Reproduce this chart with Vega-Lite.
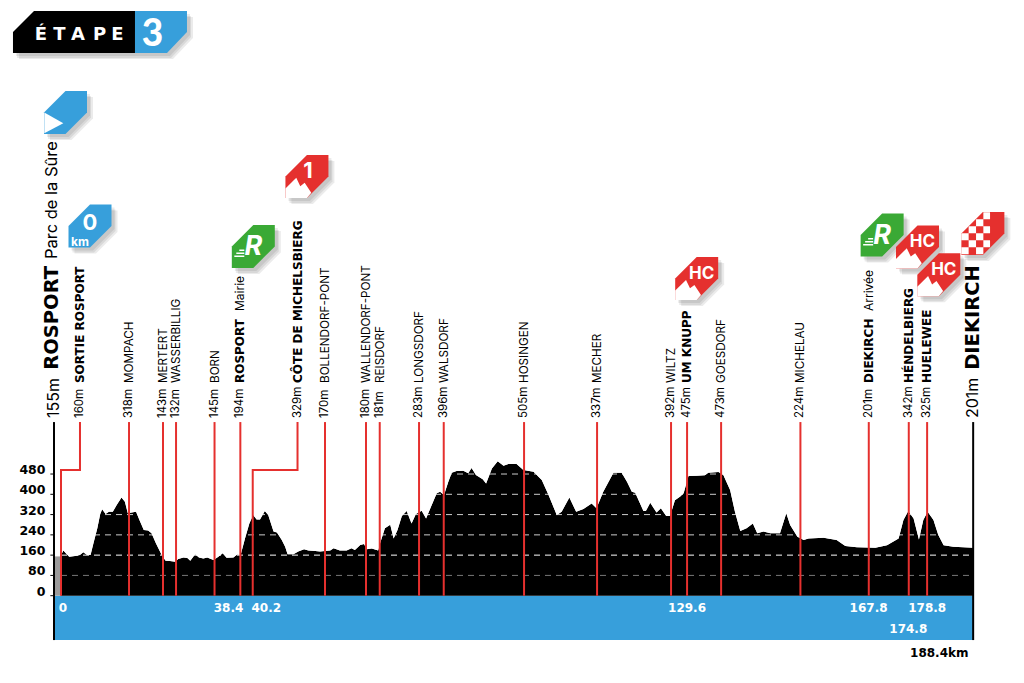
{
"$schema":"https://vega.github.io/schema/vega-lite/v6.json",
"width":1024,"height":683,"padding":0,"autosize":"none","background":"white",
"config":{"view":{"stroke":null}},
"datasets":{
"profile":[{"km":0,"alt":161},{"km":0.5,"alt":178},{"km":1.0,"alt":167},{"km":1.7,"alt":154},{"km":2.9,"alt":157},{"km":3.9,"alt":161},{"km":4.6,"alt":171},{"km":5.4,"alt":161},{"km":6.1,"alt":161},{"km":6.7,"alt":207},{"km":7.5,"alt":266},{"km":8.1,"alt":322},{"km":8.5,"alt":341},{"km":9.2,"alt":322},{"km":9.9,"alt":331},{"km":10.7,"alt":331},{"km":11.5,"alt":358},{"km":12.5,"alt":387},{"km":13.2,"alt":371},{"km":13.8,"alt":325},{"km":14.6,"alt":328},{"km":15.5,"alt":331},{"km":16.2,"alt":299},{"km":17.1,"alt":259},{"km":18.0,"alt":257},{"km":18.7,"alt":246},{"km":19.6,"alt":207},{"km":20.8,"alt":161},{"km":21.6,"alt":138},{"km":22.5,"alt":137},{"km":23.6,"alt":134},{"km":24.2,"alt":145},{"km":25.3,"alt":151},{"km":26.1,"alt":149},{"km":26.7,"alt":138},{"km":27.7,"alt":164},{"km":28.5,"alt":151},{"km":29.4,"alt":147},{"km":30.2,"alt":151},{"km":31.5,"alt":141},{"km":32.5,"alt":154},{"km":33.4,"alt":167},{"km":34.2,"alt":150},{"km":35.6,"alt":151},{"km":36.4,"alt":163},{"km":37.1,"alt":161},{"km":38.0,"alt":226},{"km":38.9,"alt":285},{"km":39.7,"alt":318},{"km":40.4,"alt":301},{"km":41.1,"alt":301},{"km":42.1,"alt":334},{"km":42.8,"alt":318},{"km":43.9,"alt":253},{"km":44.6,"alt":249},{"km":45.6,"alt":220},{"km":46.3,"alt":193},{"km":46.8,"alt":164},{"km":48.0,"alt":164},{"km":49.0,"alt":174},{"km":50.2,"alt":183},{"km":51.1,"alt":178},{"km":52.5,"alt":176},{"km":53.5,"alt":174},{"km":54.5,"alt":176},{"km":55.6,"alt":178},{"km":56.3,"alt":187},{"km":57.6,"alt":178},{"km":59.0,"alt":178},{"km":60.0,"alt":187},{"km":60.7,"alt":180},{"km":61.8,"alt":200},{"km":62.6,"alt":204},{"km":63.1,"alt":183},{"km":64.2,"alt":186},{"km":65.5,"alt":178},{"km":66.0,"alt":213},{"km":66.9,"alt":266},{"km":68.0,"alt":280},{"km":68.7,"alt":226},{"km":69.5,"alt":259},{"km":70.4,"alt":314},{"km":71.4,"alt":334},{"km":72.4,"alt":285},{"km":73.3,"alt":322},{"km":74.5,"alt":335},{"km":75.4,"alt":305},{"km":76.2,"alt":341},{"km":77.6,"alt":404},{"km":78.3,"alt":410},{"km":79.1,"alt":397},{"km":80.0,"alt":450},{"km":80.7,"alt":485},{"km":81.7,"alt":492},{"km":83.1,"alt":493},{"km":84.1,"alt":483},{"km":84.8,"alt":504},{"km":85.7,"alt":476},{"km":87.1,"alt":459},{"km":87.8,"alt":443},{"km":89.0,"alt":502},{"km":90.2,"alt":530},{"km":91.4,"alt":513},{"km":92.4,"alt":520},{"km":94.1,"alt":520},{"km":95.5,"alt":496},{"km":97.6,"alt":489},{"km":99.3,"alt":456},{"km":100.7,"alt":397},{"km":102.4,"alt":318},{"km":103.4,"alt":331},{"km":105.0,"alt":387},{"km":106.4,"alt":331},{"km":107.9,"alt":342},{"km":109.6,"alt":364},{"km":110.6,"alt":345},{"km":112.0,"alt":410},{"km":114.1,"alt":485},{"km":115.8,"alt":485},{"km":116.9,"alt":450},{"km":117.9,"alt":410},{"km":118.6,"alt":406},{"km":120.3,"alt":334},{"km":120.8,"alt":334},{"km":121.7,"alt":367},{"km":123.0,"alt":328},{"km":123.9,"alt":345},{"km":125.0,"alt":314},{"km":125.8,"alt":314},{"km":126.8,"alt":377},{"km":127.9,"alt":391},{"km":128.6,"alt":404},{"km":129.6,"alt":472},{"km":131.3,"alt":473},{"km":133.0,"alt":475},{"km":133.7,"alt":485},{"km":135.8,"alt":488},{"km":136.8,"alt":476},{"km":138.2,"alt":417},{"km":139.2,"alt":331},{"km":140.3,"alt":255},{"km":141.6,"alt":266},{"km":142.9,"alt":285},{"km":143.8,"alt":246},{"km":145.1,"alt":253},{"km":146.5,"alt":246},{"km":148.5,"alt":246},{"km":149.8,"alt":325},{"km":150.6,"alt":279},{"km":152.1,"alt":233},{"km":153.4,"alt":220},{"km":154.4,"alt":226},{"km":157.5,"alt":229},{"km":160.2,"alt":220},{"km":162.0,"alt":196},{"km":164.4,"alt":191},{"km":168.2,"alt":189},{"km":170.6,"alt":199},{"km":173.0,"alt":226},{"km":174.0,"alt":299},{"km":175.0,"alt":334},{"km":176.1,"alt":305},{"km":177.2,"alt":222},{"km":178.1,"alt":299},{"km":179.0,"alt":331},{"km":180.2,"alt":299},{"km":181.2,"alt":239},{"km":182.3,"alt":199},{"km":184.3,"alt":193},{"km":188.4,"alt":189}],
"grid":[{"alt":80,"k":"a"},{"alt":160,"k":"b"},{"alt":240,"k":"c"},{"alt":320,"k":"c"},{"alt":400,"k":"c"},{"alt":480,"k":"c"}],
"ticks":[{"alt":0,"label":"0"},{"alt":80,"label":"80"},{"alt":160,"label":"160"},{"alt":240,"label":"240"},{"alt":320,"label":"320"},{"alt":400,"label":"400"},{"alt":480,"label":"480"}],
"reds":[{"km":14.05},{"km":21.07},{"km":23.76},{"km":31.71},{"km":37.04},{"km":54.53},{"km":63.0},{"km":65.83},{"km":73.95},{"km":79.05},{"km":95.64},{"km":110.72},{"km":126.0},{"km":129.31},{"km":136.34},{"km":152.72},{"km":166.84},{"km":175.1},{"km":178.89}],
"jogs":[{"id":"a","o":1,"km":0,"alt":0},{"id":"a","o":2,"km":0,"alt":496},{"id":"a","o":3,"km":3.92,"alt":496},{"id":"a","o":4,"km":3.92,"alt":685},{"id":"b","o":1,"km":39.6,"alt":0},{"id":"b","o":2,"km":39.6,"alt":496},{"id":"b","o":3,"km":48.85,"alt":496},{"id":"b","o":4,"km":48.85,"alt":685}],
"numbers":[{"km":3.92,"label":"160m"},{"km":14.05,"label":"318m"},{"km":21.07,"label":"143m"},{"km":23.76,"label":"132m"},{"km":31.71,"label":"145m"},{"km":37.04,"label":"194m"},{"km":48.85,"label":"329m"},{"km":54.53,"label":"170m"},{"km":63.0,"label":"180m"},{"km":65.83,"label":"181m"},{"km":73.95,"label":"283m"},{"km":79.05,"label":"396m"},{"km":95.64,"label":"505m"},{"km":110.72,"label":"337m"},{"km":126.0,"label":"392m"},{"km":129.31,"label":"475m"},{"km":136.34,"label":"473m"},{"km":152.72,"label":"224m"},{"km":166.84,"label":"201m"},{"km":175.1,"label":"342m"},{"km":178.89,"label":"325m"}],
"namesBold":[{"km":3.92,"label":"SORTIE ROSPORT"},{"km":37.04,"label":"ROSPORT"},{"km":48.85,"label":"CÔTE DE MICHELSBIERG"},{"km":129.31,"label":"UM KNUPP"},{"km":166.84,"label":"DIEKIRCH"},{"km":175.1,"label":"HÉNDELBIERG"},{"km":178.89,"label":"HUELEWEE"}],
"namesRegular":[{"km":14.05,"label":"MOMPACH"},{"km":21.07,"label":"MERTERT"},{"km":23.76,"label":"WASSERBILLIG"},{"km":31.71,"label":"BORN"},{"km":54.53,"label":"BOLLENDORF-PONT"},{"km":63.0,"label":"WALLENDORF-PONT"},{"km":65.83,"label":"REISDORF"},{"km":73.95,"label":"LONGSDORF"},{"km":79.05,"label":"WALSDORF"},{"km":95.64,"label":"HOSINGEN"},{"km":110.72,"label":"MECHER"},{"km":126.0,"label":"WILTZ"},{"km":136.34,"label":"GOESDORF"},{"km":152.72,"label":"MICHELAU"}],
"notes":[{"km":37.04,"label":"Mairie"},{"km":166.84,"label":"Arrivée"}],
"bigNumbers":[{"km":-1.45,"label":"155m"},{"km":188.3,"label":"201m"}],
"bigNames":[{"km":-1.9,"label":"ROSPORT"},{"km":188.3,"label":"DIEKIRCH"}],
"kmLabels":[{"km":0.4,"label":"0","alt":-49},{"km":34.6,"label":"38.4","alt":-49},{"km":42.4,"label":"40.2","alt":-49},{"km":129.3,"label":"129.6","alt":-49},{"km":166.8,"label":"167.8","alt":-49},{"km":178.9,"label":"178.8","alt":-49},{"km":175.0,"label":"174.8","alt":-130}],
"badges":[{"km":0.93,"alt":1906,"kind":"blue","id":"start"},{"km":5.99,"alt":1458,"kind":"blue","id":"zero"},{"km":39.72,"alt":1378,"kind":"green","id":"sprint1"},{"km":50.8,"alt":1654,"kind":"red","id":"one"},{"km":131.3,"alt":1251,"kind":"red","id":"hc1"},{"km":169.6,"alt":1423,"kind":"green","id":"sprint2"},{"km":176.9,"alt":1376,"kind":"red","id":"hc2"},{"km":181.3,"alt":1266,"kind":"red","id":"hc3"},{"km":190.4,"alt":1429,"kind":"red","id":"finish"}],
"mountains":[{"km":50.8,"alt":1654},{"km":131.3,"alt":1251},{"km":176.9,"alt":1376},{"km":181.3,"alt":1266}],
"hc":[{"km":131.3,"alt":1251,"label":"HC"},{"km":176.9,"alt":1376,"label":"HC"},{"km":181.3,"alt":1266,"label":"HC"}],
"sprints":[{"km":39.72,"alt":1378,"label":"R"},{"km":169.6,"alt":1423,"label":"R"}],
"stage":[{"km":8.05,"alt":2224}]
},
"encoding":{
"x":{"field":"km","type":"quantitative","axis":null,"scale":{"domain":[-12.6,198.9],"nice":false,"zero":false}},
"y":{"field":"alt","type":"quantitative","axis":null,"scale":{"domain":[-344.4,2350],"nice":false,"zero":false}}
},
"layer":[
{"data":{"values":[{"km":-1.45,"km2":188.4,"alt":-175,"alt2":0}]},"mark":{"type":"rect","fill":"#379fdb"},"encoding":{"x2":{"field":"km2"},"y2":{"field":"alt2"}}},
{"data":{"values":[{"km":-1.45,"km2":0,"alt":0,"alt2":155}]},"mark":{"type":"rect","fill":"#9b9b9b"},"encoding":{"x2":{"field":"km2"},"y2":{"field":"alt2"}}},
{"data":{"name":"profile"},"mark":{"type":"area","fill":"#000000","interpolate":"linear"},"encoding":{"y2":{"datum":0}}},
{"data":{"name":"grid"},"transform":[{"calculate":"0","as":"from"},{"calculate":"188.4","as":"to"}],"mark":{"type":"rule","strokeWidth":1,"strokeDash":[6,5]},"encoding":{"x":{"field":"from","type":"quantitative"},"x2":{"field":"to"},"stroke":{"field":"k","type":"nominal","legend":null,"scale":{"domain":["a","b","c"],"range":["#777777","#ffffff","#cccccc"]}}}},
{"data":{"name":"profile"},"mark":{"type":"area","fill":"#ffffff","interpolate":"linear"},"encoding":{"y2":{"datum":560}}},
{"data":{"name":"ticks"},"transform":[{"calculate":"-2.2","as":"from"},{"calculate":"-1.45","as":"to"}],"mark":{"type":"rule","strokeWidth":1,"stroke":"#000000"},"encoding":{"x":{"field":"from","type":"quantitative"},"x2":{"field":"to"}}},
{"data":{"name":"reds"},"transform":[{"calculate":"0","as":"a0"},{"calculate":"685","as":"a1"}],"mark":{"type":"rule","stroke":"#e5302e","strokeWidth":2},"encoding":{"y":{"field":"a0","type":"quantitative"},"y2":{"field":"a1"}}},
{"data":{"name":"jogs"},"mark":{"type":"line","stroke":"#e5302e","strokeWidth":2,"interpolate":"linear"},"encoding":{"detail":{"field":"id"},"order":{"field":"o","type":"quantitative"}}},
{"data":{"values":[{"km":-1.45,"alt":-175,"alt2":685},{"km":188.4,"alt":-175,"alt2":685}]},"mark":{"type":"rule","stroke":"#000000","strokeWidth":2},"encoding":{"y2":{"field":"alt2"}}},
{"data":{"name":"ticks"},"transform":[{"calculate":"-3.2","as":"lx"}],"mark":{"type":"text","font":"DejaVu Sans","fontWeight":"bold","fontSize":12.5,"align":"right","baseline":"middle","dy":-4,"fill":"#000000"},"encoding":{"x":{"field":"lx","type":"quantitative"},"text":{"field":"label"}}},
{"data":{"name":"kmLabels"},"mark":{"type":"text","font":"DejaVu Sans","fontWeight":"bold","fontSize":12,"align":"center","baseline":"middle","fill":"#ffffff"},"encoding":{"text":{"field":"label"}}},
{"data":{"values":[{"km":181.4,"alt":-225,"label":"188.4km"}]},"mark":{"type":"text","font":"DejaVu Sans","fontWeight":"bold","fontSize":12,"align":"center","baseline":"middle","fill":"#000000"},"encoding":{"text":{"field":"label"}}},
{"data":{"name":"numbers"},"transform":[{"calculate":"701","as":"a"}],"mark":{"type":"text","font":"Inter","fontSize":11.5,"angle":270,"align":"left","baseline":"middle","fill":"#000000"},"encoding":{"y":{"field":"a","type":"quantitative"},"text":{"field":"label"}}},
{"data":{"name":"namesRegular"},"transform":[{"calculate":"839","as":"a"}],"mark":{"type":"text","font":"Inter","fontSize":11.7,"angle":270,"align":"left","baseline":"middle","fill":"#000000"},"encoding":{"y":{"field":"a","type":"quantitative"},"text":{"field":"label"}}},
{"data":{"name":"namesBold"},"transform":[{"calculate":"839","as":"a"}],"mark":{"type":"text","font":"DejaVu Sans","fontWeight":"bold","fontSize":12,"angle":270,"align":"left","baseline":"middle","fill":"#000000"},"encoding":{"y":{"field":"a","type":"quantitative"},"text":{"field":"label"}}},
{"data":{"name":"notes"},"transform":[{"calculate":"1123","as":"a"}],"mark":{"type":"text","font":"Inter","fontSize":12,"angle":270,"align":"left","baseline":"middle","fill":"#000000"},"encoding":{"y":{"field":"a","type":"quantitative"},"text":{"field":"label"}}},
{"data":{"name":"bigNumbers"},"transform":[{"calculate":"701","as":"a"}],"mark":{"type":"text","font":"Inter","fontSize":16,"angle":270,"align":"left","baseline":"middle","fill":"#000000"},"encoding":{"y":{"field":"a","type":"quantitative"},"text":{"field":"label"}}},
{"data":{"name":"bigNames"},"transform":[{"calculate":"891","as":"a"}],"mark":{"type":"text","font":"DejaVu Sans","fontWeight":"bold","fontSize":19.5,"angle":270,"align":"left","baseline":"middle","fill":"#000000"},"encoding":{"y":{"field":"a","type":"quantitative"},"text":{"field":"label"}}},
{"data":{"values":[{"km":-1.9,"alt":1328,"label":"Parc de la Sûre"}]},"mark":{"type":"text","font":"Inter","fontSize":16.5,"angle":270,"align":"left","baseline":"middle","fill":"#000000"},"encoding":{"text":{"field":"label"}}},
{"data":{"name":"stage"},"mark":{"type":"point","shape":"M-63,-18L90,-18L90,3L70,24L-84,24L-84,3Z","size":4,"filled":true,"fill":"#000000","opacity":0.08,"strokeWidth":0}},
{"data":{"name":"stage"},"mark":{"type":"point","shape":"M-62,-16L91,-16L91,5L71,26L-83,26L-83,5Z","size":4,"filled":true,"fill":"#000000","opacity":0.08,"strokeWidth":0}},
{"data":{"name":"stage"},"mark":{"type":"point","shape":"M-60,-15L93,-15L93,6L73,27L-81,27L-81,6Z","size":4,"filled":true,"fill":"#000000","opacity":0.08,"strokeWidth":0}},
{"data":{"name":"stage"},"mark":{"type":"point","shape":"M-66,-21L35,-21L35,21L-87,21L-87,0Z","size":4,"filled":true,"fill":"#000000","opacity":1,"strokeWidth":0}},
{"data":{"name":"stage"},"mark":{"type":"point","shape":"M35,-21L87,-21L87,0L67,21L35,21Z","size":4,"filled":true,"fill":"#379fdb","opacity":1,"strokeWidth":0}},
{"data":{"values":[{"km":-4.13,"alt":2192,"label":"É"},{"km":-0.31,"alt":2192,"label":"T"},{"km":3.51,"alt":2192,"label":"A"},{"km":7.95,"alt":2192,"label":"P"},{"km":11.67,"alt":2192,"label":"E"}]},"mark":{"type":"text","font":"DejaVu Sans","fontWeight":"bold","fontSize":18,"align":"center","baseline":"alphabetic","fill":"#ffffff"},"encoding":{"text":{"field":"label"}}},
{"data":{"values":[{"km":18.9,"alt":2169,"label":"3"}]},"mark":{"type":"text","font":"Lato","fontWeight":900,"fontSize":37,"align":"center","baseline":"alphabetic","fill":"#ffffff"},"encoding":{"text":{"field":"label"}}},
{"data":{"name":"badges"},"mark":{"type":"point","shape":"M3,-18.5L24.5,-18.5L24.5,3L3,24.5L-18.5,24.5L-18.5,3Z","size":4,"filled":true,"fill":"#000000","opacity":0.08,"strokeWidth":0}},
{"data":{"name":"badges"},"mark":{"type":"point","shape":"M4,-16.5L25.5,-16.5L25.5,5L4,26.5L-17.5,26.5L-17.5,5Z","size":4,"filled":true,"fill":"#000000","opacity":0.08,"strokeWidth":0}},
{"data":{"name":"badges"},"mark":{"type":"point","shape":"M6,-15.5L27.5,-15.5L27.5,6L6,27.5L-15.5,27.5L-15.5,6Z","size":4,"filled":true,"fill":"#000000","opacity":0.08,"strokeWidth":0}},
{"data":{"name":"badges"},"mark":{"type":"point","shape":"M0,-21.5L21.5,-21.5L21.5,0L0,21.5L-21.5,21.5L-21.5,0Z","size":4,"filled":true,"opacity":1,"strokeWidth":0},"encoding":{"fill":{"field":"kind","type":"nominal","legend":null,"scale":{"domain":["blue","green","red"],"range":["#379fdb","#3aa935","#e5302e"]}}}},
{"data":{"name":"mountains"},"mark":{"type":"point","shape":"M-21.5,21.5L-21.5,12L-10.7,1.3L-6.7,9.7L-2.3,6.3L4.3,16.3L0,21.5Z","size":4,"filled":true,"fill":"#ffffff","opacity":1,"strokeWidth":0}},
{"data":{"values":[{"km":0.93,"alt":1906}]},"mark":{"type":"point","shape":"M-21.2,0L-2.2,10.8L-21.2,20.7Z","size":4,"filled":true,"fill":"#ffffff","opacity":1,"strokeWidth":0}},
{"data":{"values":[{"km":190.4,"alt":1429}]},"mark":{"type":"point","shape":"M0.5,-21.2H7.2V-14.2H0.5ZM-6.8,-14.2H0.5V-7.2H-6.8ZM-14.2,-7.2H-6.8V-0.2H-14.2ZM0.5,-7.2H7.2V-0.2H0.5ZM-21.5,-0.2H-14.2V6.8H-21.5ZM-6.8,-0.2H0.5V6.8H-6.8ZM-14.2,6.8H-6.8V13.8H-14.2ZM0.5,6.8H7.2V13.8H0.5ZM-21.5,13.8H-14.2V20.8H-21.5ZM-6.8,13.8H0.5V20.8H-6.8Z","size":4,"filled":true,"fill":"#ffffff","opacity":1,"strokeWidth":0}},
{"data":{"name":"sprints"},"mark":{"type":"point","shape":"M-14,3H-9V4.5H-14ZM-17,6H-9V7.5H-17ZM-19,9H-9V10.5H-19Z","size":4,"filled":true,"fill":"#ffffff","opacity":1,"strokeWidth":0}},
{"data":{"name":"sprints"},"mark":{"type":"text","font":"Inter","fontWeight":"bold","fontStyle":"italic","fontSize":27,"align":"center","baseline":"middle","dx":0,"dy":1,"fill":"#ffffff"},"encoding":{"text":{"field":"label"}}},
{"data":{"name":"hc"},"mark":{"type":"text","font":"Inter","fontWeight":"bold","fontSize":17,"align":"center","baseline":"middle","dx":5,"dy":-5,"fill":"#ffffff"},"encoding":{"text":{"field":"label"}}},
{"data":{"values":[{"km":50.8,"alt":1654,"label":"1"}]},"mark":{"type":"text","font":"Inter","fontWeight":"bold","fontSize":22,"align":"center","baseline":"middle","dx":1,"dy":-5,"fill":"#ffffff"},"encoding":{"text":{"field":"label"}}},
{"data":{"values":[{"km":5.99,"alt":1458,"label":"0"}]},"mark":{"type":"text","font":"Inter","fontWeight":"bold","fontSize":22,"align":"center","baseline":"middle","dx":0,"dy":-3,"fill":"#ffffff"},"encoding":{"text":{"field":"label"}}},
{"data":{"values":[{"km":5.99,"alt":1458,"label":"km"}]},"mark":{"type":"text","font":"Inter","fontWeight":"bold","fontSize":12,"align":"center","baseline":"middle","dx":-10,"dy":16,"fill":"#ffffff"},"encoding":{"text":{"field":"label"}}}
]
}
